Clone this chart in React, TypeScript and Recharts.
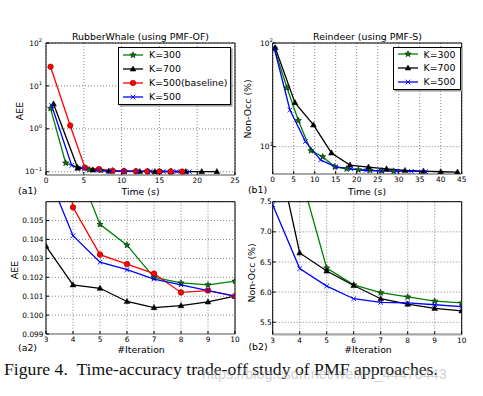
import React from 'react';
import { LineChart, Line, XAxis, YAxis, CartesianGrid } from 'recharts';

// ---- data ----
const seriesNames = ['K=300', 'K=700', 'K=500(baseline)', 'K=500'];

// (a1) RubberWhale, AEE vs time (s)
const a1TimeK300 = [0.6, 2.6, 4.15, 5.7, 7.25, 8.8, 10.35, 11.9, 13.45, 15.0, 16.55];
const a1AeeK300 = [3.0, 0.16, 0.125, 0.112, 0.1084, 0.1048, 0.1037, 0.102, 0.1017, 0.1016, 0.1018];
const a1TimeK700 = [1.0, 4.2, 6.2, 8.3, 10.3, 12.4, 14.4, 16.5, 18.5, 20.6, 22.6];
const a1AeeK700 = [3.8, 0.122, 0.11, 0.10365, 0.1016, 0.1014, 0.1007, 0.1004, 0.1005, 0.1007, 0.101];
const a1TimeBase = [0.6, 3.2, 5.15, 7.0, 8.8, 10.3, 11.9, 13.4, 15.0, 16.5, 18.0];
const a1AeeBase = [28, 1.2, 0.125, 0.115, 0.1057, 0.1032, 0.1027, 0.1022, 0.1012, 0.1013, 0.101];
const a1TimeK500 = [0.75, 3.4, 5.1, 6.9, 8.6, 10.3, 12.1, 13.8, 15.5, 17.3, 19.0];
const a1AeeK500 = [3.5, 0.14, 0.118, 0.1077, 0.1042, 0.1028, 0.1024, 0.1019, 0.1016, 0.1013, 0.101];

// (b1) Reindeer, Non-Occ (%) vs time (s)
const b1TimeK300 = [0.4, 3.4, 6.1, 9.1, 11.9, 14.8, 17.6, 20.4, 23.2, 26.0, 28.8];
const b1OccK300 = [88, 37, 17.9, 9.15, 8.0, 6.4, 6.12, 5.99, 5.92, 5.85, 5.82];
const b1TimeK700 = [0.6, 5.3, 9.7, 14.0, 18.4, 22.8, 27.1, 31.5, 35.9, 40.0, 44.0];
const b1OccK700 = [90, 26.6, 16.2, 8.7, 6.65, 6.35, 6.11, 5.89, 5.8, 5.73, 5.69];
const b1TimeK500 = [0.4, 4.1, 7.8, 11.4, 15.0, 18.6, 22.2, 25.8, 29.4, 33.0, 36.4];
const b1OccK500 = [88, 22.6, 11.2, 7.45, 6.39, 6.1, 5.89, 5.83, 5.82, 5.79, 5.76];

// (a2) / (b2) zoom on iterations 3..10
const iterations = [3, 4, 5, 6, 7, 8, 9, 10];
const a2AeeK300 = [0.112, 0.1084, 0.1048, 0.1037, 0.102, 0.1017, 0.1016, 0.1018];
const a2AeeK700 = [0.10365, 0.1016, 0.10142, 0.10072, 0.1004, 0.1005, 0.1007, 0.101];
const a2AeeBase = [0.115, 0.1057, 0.1032, 0.1027, 0.1022, 0.1012, 0.1013, 0.101];
const a2AeeK500 = [0.1077, 0.1042, 0.1028, 0.1024, 0.1019, 0.1016, 0.1013, 0.101];
const b2OccK300 = [9.15, 8.0, 6.4, 6.12, 5.99, 5.92, 5.85, 5.82];
const b2OccK700 = [8.7, 6.65, 6.35, 6.11, 5.89, 5.8, 5.73, 5.69];
const b2OccK500 = [7.45, 6.39, 6.1, 5.89, 5.83, 5.82, 5.79, 5.76];

// tick labels
const a1XTicks = [0, 5, 10, 15, 20, 25];
const a1YTicks = [0.1, 1, 10, 100];
const b1XTicks = [0, 5, 10, 15, 20, 25, 30, 35, 40, 45];
const b1YTicks = [10, 100];
const a2YTicks = [0.099, 0.1, 0.101, 0.102, 0.103, 0.104, 0.105];
const b2YTicks = [5.5, 6.0, 6.5, 7.0, 7.5];

const FONT = 'DejaVu Sans';
const GREEN = '#008000';
const RED = '#ff0000';
const BLUE = '#0000ff';
const BLACK = '#000000';

type MarkerKind = 'star' | 'triangle' | 'circle' | 'x';
type Series = { name: string; xs: number[]; ys: number[]; color: string; marker: MarkerKind };

const starPoints = (cx: number, cy: number, ro: number, ri: number) => {
  const pts: string[] = [];
  for (let i = 0; i < 10; i++) {
    const r = i % 2 === 0 ? ro : ri;
    const a = -Math.PI / 2 + (i * Math.PI) / 5;
    pts.push(`${cx + r * Math.cos(a)},${cy + r * Math.sin(a)}`);
  }
  return pts.join(' ');
};

function markerShape(kind: MarkerKind, cx: number, cy: number, color: string, key?: string) {
  switch (kind) {
    case 'star':
      return <polygon key={key} points={starPoints(cx, cy, 3.3, 1.4)} fill={color} stroke="#000" strokeWidth={0.5} />;
    case 'triangle':
      return (
        <polygon
          key={key}
          points={`${cx},${cy - 3.1} ${cx + 2.9},${cy + 2.1} ${cx - 2.9},${cy + 2.1}`}
          fill={color}
          stroke="#000"
          strokeWidth={0.5}
        />
      );
    case 'circle':
      return <circle key={key} cx={cx} cy={cy} r={2.8} fill={color} stroke="#600" strokeWidth={0.5} />;
    default:
      return (
        <path
          key={key}
          d={`M${cx - 2.3},${cy - 2.3}L${cx + 2.3},${cy + 2.3}M${cx - 2.3},${cy + 2.3}L${cx + 2.3},${cy - 2.3}`}
          stroke={color}
          strokeWidth={0.9}
          fill="none"
        />
      );
  }
}

const toPoints = (xs: number[], ys: number[]) => xs.map((x, i) => ({ x, y: ys[i] }));

const LogTick = (props: any) => {
  const { x, y, payload } = props;
  const exp = Math.round(Math.log10(payload.value));
  const expText = exp < 0 ? '\u2212' + Math.abs(exp) : String(exp);
  return (
    <text x={x} y={y} textAnchor="end" fontFamily={FONT} fontSize={7.4} fill="#000" dy={2.6}>
      10
      <tspan dy={-3.6} fontSize={5.2}>
        {expText}
      </tspan>
    </text>
  );
};

interface PanelProps {
  left: number;
  top: number;
  width: number;
  height: number;
  // plot box inside the chart
  plot: { top: number; right: number; bottom: number; left: number };
  series: Series[];
  xDomain: [number, number];
  xTicks: number[];
  yDomain: [number, number];
  yTicks: number[];
  log?: boolean;
  yDecimals?: number;
  yTickMargin: number;
}

const Panel: React.FC<PanelProps> = ({
  left, top, width, height, plot, series, xDomain, xTicks, yDomain, yTicks, log, yDecimals, yTickMargin,
}) => {
  const tickStyle = { fontSize: 7.4, fill: '#000', fontFamily: FONT };
  // each axis takes 1px, so shrink the margins by that
  const margin = { top: plot.top - 1, right: plot.right - 1, bottom: plot.bottom - 1, left: plot.left - 1 };
  return (
    <div style={{ position: 'absolute', left, top }}>
      <LineChart width={width} height={height} margin={margin}>
        <CartesianGrid stroke="#333" strokeDasharray="1 2" strokeWidth={0.6} />
        <XAxis
          xAxisId={0}
          type="number"
          dataKey="x"
          domain={xDomain}
          ticks={xTicks}
          interval={0}
          allowDataOverflow
          height={1}
          tickSize={-3}
          tickMargin={6}
          tick={tickStyle}
          axisLine={{ stroke: '#a8a8a8', strokeWidth: 2.2 }}
          tickLine={{ stroke: '#000' }}
        />
        <XAxis
          xAxisId="top"
          orientation="top"
          type="number"
          domain={xDomain}
          ticks={xTicks}
          interval={0}
          allowDataOverflow
          height={1}
          tickSize={-3}
          tick={false}
          axisLine={{ stroke: '#000' }}
          tickLine={{ stroke: '#000' }}
        />
        <YAxis
          yAxisId={0}
          type="number"
          scale={log ? 'log' : 'linear'}
          domain={yDomain}
          ticks={yTicks}
          interval={0}
          allowDataOverflow
          width={1}
          tickSize={-3}
          tickMargin={yTickMargin}
          tick={log ? <LogTick /> : tickStyle}
          tickFormatter={log ? undefined : (v: number) => v.toFixed(yDecimals ?? 1)}
          axisLine={{ stroke: '#000' }}
          tickLine={{ stroke: '#000' }}
        />
        <YAxis
          yAxisId="right"
          orientation="right"
          type="number"
          scale={log ? 'log' : 'linear'}
          domain={yDomain}
          ticks={yTicks}
          interval={0}
          allowDataOverflow
          width={1}
          tickSize={-3}
          tick={false}
          axisLine={{ stroke: '#000' }}
          tickLine={{ stroke: '#000' }}
        />
        {series.map((s) => (
          <Line
            key={s.name}
            xAxisId={0}
            yAxisId={0}
            data={toPoints(s.xs, s.ys)}
            dataKey="y"
            type="linear"
            stroke={s.color}
            strokeWidth={1.3}
            isAnimationActive={false}
            dot={(p: any) => markerShape(s.marker, p.cx, p.cy, s.color, `${s.name}-${p.index}`)}
            activeDot={false}
          />
        ))}
      </LineChart>
    </div>
  );
};

const Legend: React.FC<{ left: number; top: number; width: number; items: Series[]; rowH: number }> = ({
  left, top, width, items, rowH,
}) => (
  <div
    style={{
      position: 'absolute',
      left,
      top,
      width,
      border: '1px solid #000',
      background: '#fff',
      boxShadow: '1.5px 1.5px 0 #9a9a9a',
      fontFamily: FONT,
    }}
  >
    {items.map((s) => (
      <div key={s.name} style={{ display: 'flex', alignItems: 'center', height: rowH }}>
        <svg width={27} height={10} style={{ flex: 'none' }}>
          <line x1={4} x2={24} y1={5} y2={5} stroke={s.color} strokeWidth={1.3} />
          {markerShape(s.marker, 14, 5, s.color)}
        </svg>
        <span style={{ fontSize: 9.4, marginLeft: 3, lineHeight: 1, whiteSpace: 'nowrap' }}>{s.name}</span>
      </div>
    ))}
  </div>
);

const Label: React.FC<{ x: number; y: number; rotate?: boolean; size?: number; children: React.ReactNode }> = ({
  x, y, rotate, size = 9.4, children,
}) => (
  <div
    style={{
      position: 'absolute',
      left: x,
      top: y,
      transform: `translate(-50%, -50%)${rotate ? ' rotate(-90deg)' : ''}`,
      fontFamily: FONT,
      fontSize: size,
      lineHeight: 1,
      whiteSpace: 'nowrap',
      color: '#000',
    }}
  >
    {children}
  </div>
);

export default function App() {
  const a1Series: Series[] = [
    { name: seriesNames[0], xs: a1TimeK300, ys: a1AeeK300, color: GREEN, marker: 'star' },
    { name: seriesNames[1], xs: a1TimeK700, ys: a1AeeK700, color: BLACK, marker: 'triangle' },
    { name: seriesNames[2], xs: a1TimeBase, ys: a1AeeBase, color: RED, marker: 'circle' },
    { name: seriesNames[3], xs: a1TimeK500, ys: a1AeeK500, color: BLUE, marker: 'x' },
  ];
  const b1Series: Series[] = [
    { name: seriesNames[0], xs: b1TimeK300, ys: b1OccK300, color: GREEN, marker: 'star' },
    { name: seriesNames[1], xs: b1TimeK700, ys: b1OccK700, color: BLACK, marker: 'triangle' },
    { name: seriesNames[3], xs: b1TimeK500, ys: b1OccK500, color: BLUE, marker: 'x' },
  ];
  const a2Series: Series[] = [
    { name: seriesNames[0], xs: iterations, ys: a2AeeK300, color: GREEN, marker: 'star' },
    { name: seriesNames[1], xs: iterations, ys: a2AeeK700, color: BLACK, marker: 'triangle' },
    { name: seriesNames[2], xs: iterations, ys: a2AeeBase, color: RED, marker: 'circle' },
    { name: seriesNames[3], xs: iterations, ys: a2AeeK500, color: BLUE, marker: 'x' },
  ];
  const b2Series: Series[] = [
    { name: seriesNames[0], xs: iterations, ys: b2OccK300, color: GREEN, marker: 'star' },
    { name: seriesNames[1], xs: iterations, ys: b2OccK700, color: BLACK, marker: 'triangle' },
    { name: seriesNames[3], xs: iterations, ys: b2OccK500, color: BLUE, marker: 'x' },
  ];

  return (
    <div style={{ position: 'absolute', left: 0, top: 0, width: 483, height: 396, background: '#fff', overflow: 'hidden' }}>
      <Panel
        left={0} top={0} width={241} height={200}
        plot={{ top: 43, left: 46, right: 6, bottom: 25 }}
        series={a1Series} xDomain={[0, 25]} xTicks={a1XTicks}
        yDomain={[0.084, 100]} yTicks={a1YTicks} log yTickMargin={7}
      />
      <Panel
        left={241} top={0} width={242} height={200}
        plot={{ top: 43, left: 31.7, right: 21.3, bottom: 26 }}
        series={b1Series} xDomain={[0, 45]} xTicks={b1XTicks}
        yDomain={[5.45, 100]} yTicks={b1YTicks} log yTickMargin={3}
      />
      <Panel
        left={0} top={192} width={241} height={168}
        plot={{ top: 9.7, left: 46, right: 6, bottom: 26 }}
        series={a2Series} xDomain={[3, 10]} xTicks={iterations}
        yDomain={[0.099, 0.106]} yTicks={a2YTicks} yDecimals={3} yTickMargin={5.5}
      />
      <Panel
        left={241} top={192} width={242} height={168}
        plot={{ top: 9.7, left: 31.7, right: 21.3, bottom: 25.7 }}
        series={b2Series} xDomain={[3, 10]} xTicks={iterations}
        yDomain={[5.3, 7.5]} yTicks={b2YTicks} yDecimals={1} yTickMargin={4}
      />

      <Legend left={118} top={47} width={111} items={a1Series} rowH={14} />
      <Legend left={392.5} top={46.5} width={66.5} items={b1Series} rowH={13.8} />

      <Label x={140.5} y={37}>RubberWhale (using PMF-OF)</Label>
      <Label x={367.5} y={37}>Reindeer (using PMF-S)</Label>
      <Label x={20} y={111} rotate>AEE</Label>
      <Label x={248} y={109} rotate>Non-Occ (%)</Label>
      <Label x={15} y={270} rotate>AEE</Label>
      <Label x={252} y={273} rotate>Non-Occ (%)</Label>
      <Label x={140.5} y={191.5}>Time (s)</Label>
      <Label x={367} y={191.5}>Time (s)</Label>
      <Label x={141} y={350}>#Iteration</Label>
      <Label x={368} y={350}>#Iteration</Label>
      <Label x={27.5} y={191}>(a1)</Label>
      <Label x={257.5} y={190}>(b1)</Label>
      <Label x={27.5} y={348}>(a2)</Label>
      <Label x={258} y={347}>(b2)</Label>

      <div
        style={{
          position: 'absolute', left: 4, top: 361, fontFamily: 'Liberation Serif', fontSize: 17.7,
          lineHeight: 1, whiteSpace: 'pre', color: '#111',
        }}
      >
        {'Figure 4.  Time-accuracy trade-off study of PMF approaches.'}
      </div>
      <div
        style={{
          position: 'absolute', left: 202, top: 367, fontFamily: 'Liberation Sans', fontSize: 14.4,
          lineHeight: 1, whiteSpace: 'nowrap', color: 'rgba(170,170,170,0.55)',
        }}
      >
        https://blog.csdn.net/weixin_44470443
      </div>
    </div>
  );
}
